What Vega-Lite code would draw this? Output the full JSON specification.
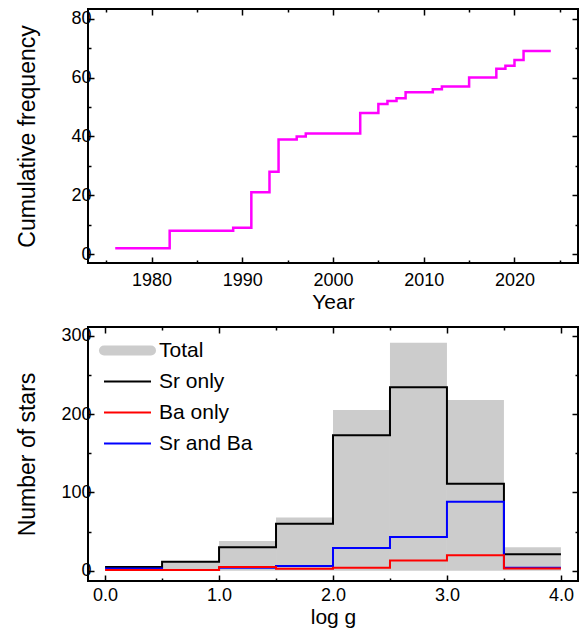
{
  "$schema": "https://vega.github.io/schema/vega-lite/v6.json",
  "background": "white",
  "padding": {"left": 14, "top": 7, "right": 7, "bottom": 0},
  "config": {
    "font": "Liberation Sans",
    "view": {"stroke": "black", "strokeWidth": 2},
    "axis": {"domain": false, "grid": false, "tickColor": "black", "tickWidth": 1.5, "labelColor": "black", "labelFontSize": 18, "titleColor": "black", "titleFontWeight": "normal", "labelFont": "Liberation Sans", "titleFont": "Liberation Sans"},
    "concat": {"spacing": 12}
  },
  "resolve": {"legend": {"color": "independent"}, "scale": {"color": "independent"}},
  "vconcat": [
    {
      "width": 490,
      "height": 254,
      "data": {"values": [
        {"year": 1976, "count": 2}, {"year": 1982, "count": 8}, {"year": 1989, "count": 9},
        {"year": 1991, "count": 21}, {"year": 1993, "count": 28}, {"year": 1994, "count": 39},
        {"year": 1996, "count": 40}, {"year": 1997, "count": 41}, {"year": 2003, "count": 48},
        {"year": 2005, "count": 51}, {"year": 2006, "count": 52}, {"year": 2007, "count": 53},
        {"year": 2008, "count": 55}, {"year": 2011, "count": 56}, {"year": 2012, "count": 57},
        {"year": 2015, "count": 60}, {"year": 2018, "count": 63}, {"year": 2019, "count": 64},
        {"year": 2020, "count": 66}, {"year": 2021, "count": 69}, {"year": 2024, "count": 69}
      ]},
      "layer": [
        {
          "mark": {"type": "line", "interpolate": "step-after", "color": "#ff00ff", "strokeWidth": 2.5},
          "encoding": {
            "x": {"field": "year", "type": "quantitative",
              "scale": {"domain": [1973, 2027], "nice": false, "zero": false},
              "axis": {"orient": "bottom", "values": [1975, 1980, 1985, 1990, 1995, 2000, 2005, 2010, 2015, 2020, 2025],
                "format": "d", "labelExpr": "datum.value % 10 === 0 ? datum.label : ''",
                "tickSize": {"condition": {"test": "datum.value % 10 === 0", "value": -6}, "value": -3},
                "labelPadding": 14, "title": "Year", "titleFontSize": 21, "titlePadding": 2}},
            "y": {"field": "count", "type": "quantitative",
              "scale": {"domain": [-3, 83.3], "nice": false, "zero": false},
              "axis": {"orient": "left", "values": [0, 10, 20, 30, 40, 50, 60, 70, 80],
                "labelExpr": "datum.value % 20 === 0 ? datum.label : ''",
                "tickSize": {"condition": {"test": "datum.value % 20 === 0", "value": -6}, "value": -3},
                "labelPadding": 3, "title": "Cumulative frequency", "titleFontSize": 23, "titleX": -61, "titleBaseline": "middle"}}
          }
        },
        {
          "mark": {"type": "line", "interpolate": "step-after", "strokeOpacity": 0},
          "encoding": {
            "x": {"field": "year", "type": "quantitative",
              "axis": {"orient": "top", "values": [1975, 1980, 1985, 1990, 1995, 2000, 2005, 2010, 2015, 2020, 2025],
                "labels": false, "title": null,
                "tickSize": {"condition": {"test": "datum.value % 10 === 0", "value": -6}, "value": -3}}},
            "y": {"field": "count", "type": "quantitative",
              "axis": {"orient": "right", "values": [0, 10, 20, 30, 40, 50, 60, 70, 80],
                "labels": false, "title": null,
                "tickSize": {"condition": {"test": "datum.value % 20 === 0", "value": -6}, "value": -3}}}
          }
        }
      ],
      "resolve": {"axis": {"x": "independent", "y": "independent"}}
    },
    {
      "width": 490,
      "height": 254,
      "layer": [
        {
          "data": {"values": [
            {"lo": 0.0, "hi": 0.5, "value": 6, "series": "Total"},
            {"lo": 0.5, "hi": 1.0, "value": 12, "series": "Total"},
            {"lo": 1.0, "hi": 1.5, "value": 38, "series": "Total"},
            {"lo": 1.5, "hi": 2.0, "value": 68, "series": "Total"},
            {"lo": 2.0, "hi": 2.5, "value": 205, "series": "Total"},
            {"lo": 2.5, "hi": 3.0, "value": 291, "series": "Total"},
            {"lo": 3.0, "hi": 3.5, "value": 218, "series": "Total"},
            {"lo": 3.5, "hi": 4.0, "value": 30, "series": "Total"}
          ]},
          "mark": {"type": "bar"},
          "encoding": {
            "x": {"field": "lo", "type": "quantitative",
              "scale": {"domain": [-0.15, 4.15], "nice": false, "zero": false},
              "axis": {"orient": "bottom", "values": [0, 0.5, 1, 1.5, 2, 2.5, 3, 3.5, 4],
                "format": ".1f", "labelExpr": "datum.value % 1 === 0 ? datum.label : ''",
                "tickSize": {"condition": {"test": "datum.value % 1 === 0", "value": -6}, "value": -3},
                "labelPadding": 11, "title": "log g", "titleFontSize": 21, "titlePadding": 2}},
            "x2": {"field": "hi"},
            "y": {"field": "value", "type": "quantitative",
              "scale": {"domain": [-13, 311], "nice": false, "zero": false},
              "axis": {"orient": "left", "values": [0, 50, 100, 150, 200, 250, 300],
                "labelExpr": "datum.value % 100 === 0 ? datum.label : ''",
                "tickSize": {"condition": {"test": "datum.value % 100 === 0", "value": -6}, "value": -3},
                "labelPadding": 3, "title": "Number of stars", "titleFontSize": 23, "titleX": -61, "titleBaseline": "middle"}},
            "y2": {"datum": 0},
            "color": {"field": "series", "type": "nominal",
              "scale": {"domain": ["Total", "Sr only", "Ba only", "Sr and Ba"], "range": ["#cccccc", "#000000", "#ff0000", "#0000ff"]},
              "legend": {"title": null, "orient": "none", "legendX": 29, "legendY": 13,
                "symbolType": "stroke", "symbolSize": 2209, "symbolStrokeWidth": 2, "labelFontSize": 21, "labelColor": "black",
                "labelOffset": 21, "rowPadding": 9,
                "encode": {"symbols": {"update": {
                  "strokeWidth": {"signal": "datum.value === 'Total' ? 10 : 2"},
                  "strokeCap": {"signal": "datum.value === 'Total' ? 'round' : 'butt'"},
                  "strokeJoin": {"value": "round"}
                }}}}}
          }
        },
        {
          "data": {"values": [
            {"logg": 0.0, "value": 5, "series": "Sr only"},
            {"logg": 0.5, "value": 11.5, "series": "Sr only"},
            {"logg": 1.0, "value": 30, "series": "Sr only"},
            {"logg": 1.5, "value": 60, "series": "Sr only"},
            {"logg": 2.0, "value": 173, "series": "Sr only"},
            {"logg": 2.5, "value": 234, "series": "Sr only"},
            {"logg": 3.0, "value": 111, "series": "Sr only"},
            {"logg": 3.5, "value": 21, "series": "Sr only"},
            {"logg": 4.0, "value": 21, "series": "Sr only"},
            {"logg": 0.0, "value": 3, "series": "Sr and Ba"},
            {"logg": 0.5, "value": 1, "series": "Sr and Ba"},
            {"logg": 1.0, "value": 4, "series": "Sr and Ba"},
            {"logg": 1.5, "value": 6, "series": "Sr and Ba"},
            {"logg": 2.0, "value": 29, "series": "Sr and Ba"},
            {"logg": 2.5, "value": 43, "series": "Sr and Ba"},
            {"logg": 3.0, "value": 88, "series": "Sr and Ba"},
            {"logg": 3.5, "value": 4, "series": "Sr and Ba"},
            {"logg": 4.0, "value": 4, "series": "Sr and Ba"},
            {"logg": 0.0, "value": 1, "series": "Ba only"},
            {"logg": 0.5, "value": 1, "series": "Ba only"},
            {"logg": 1.0, "value": 5, "series": "Ba only"},
            {"logg": 1.5, "value": 2.5, "series": "Ba only"},
            {"logg": 2.0, "value": 4, "series": "Ba only"},
            {"logg": 2.5, "value": 13, "series": "Ba only"},
            {"logg": 3.0, "value": 20, "series": "Ba only"},
            {"logg": 3.5, "value": 3, "series": "Ba only"},
            {"logg": 4.0, "value": 3, "series": "Ba only"}
          ]},
          "mark": {"type": "line", "interpolate": "step-after", "strokeWidth": 2},
          "encoding": {
            "x": {"field": "logg", "type": "quantitative",
              "axis": {"orient": "top", "values": [0, 0.5, 1, 1.5, 2, 2.5, 3, 3.5, 4],
                "labels": false, "title": null,
                "tickSize": {"condition": {"test": "datum.value % 1 === 0", "value": -6}, "value": -3}}},
            "y": {"field": "value", "type": "quantitative",
              "axis": {"orient": "right", "values": [0, 50, 100, 150, 200, 250, 300],
                "labels": false, "title": null,
                "tickSize": {"condition": {"test": "datum.value % 100 === 0", "value": -6}, "value": -3}}},
            "color": {"field": "series", "type": "nominal"},
            "order": {"field": "logg", "type": "quantitative"}
          }
        }
      ],
      "resolve": {"axis": {"x": "independent", "y": "independent"}}
    }
  ]
}
